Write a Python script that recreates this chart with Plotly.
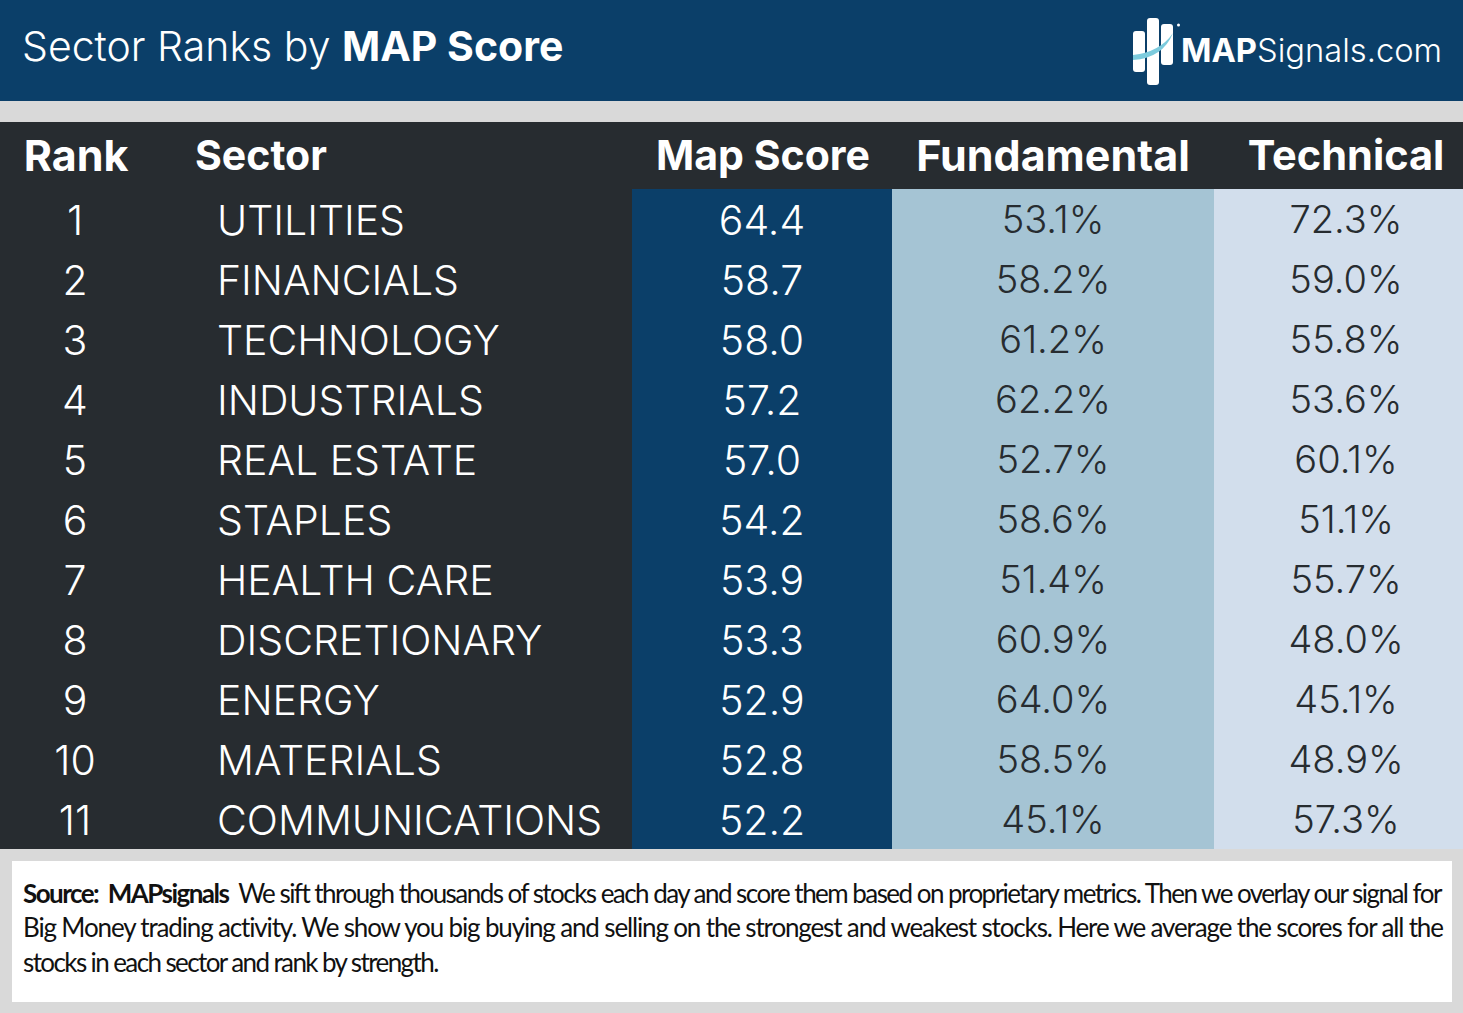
import plotly.graph_objects as go

W, H = 1463, 1013

ranks = ["1", "2", "3", "4", "5", "6", "7", "8", "9", "10", "11"]
sectors = ["UTILITIES", "FINANCIALS", "TECHNOLOGY", "INDUSTRIALS", "REAL ESTATE", "STAPLES",
           "HEALTH CARE", "DISCRETIONARY", "ENERGY", "MATERIALS", "COMMUNICATIONS"]
map_score = ["64.4", "58.7", "58.0", "57.2", "57.0", "54.2", "53.9", "53.3", "52.9", "52.8", "52.2"]
fundamental = ["53.1%", "58.2%", "61.2%", "62.2%", "52.7%", "58.6%", "51.4%", "60.9%", "64.0%", "58.5%", "45.1%"]
technical = ["72.3%", "59.0%", "55.8%", "53.6%", "60.1%", "51.1%", "55.7%", "48.0%", "45.1%", "48.9%", "57.3%"]
headers = ["Rank", "", "Sector", "Map Score", "Fundamental", "", "Technical"]
blank = [""] * 11

source_lines = [
    "<b>Source:  MAPsignals</b>  We sift through thousands of stocks each day and score them based on proprietary metrics. Then we overlay our signal for",
    "Big Money trading activity. We show you big buying and selling on the strongest and weakest stocks. Here we average the scores for all the",
    "stocks in each sector and rank by strength.",
]
# tracking per line, the source text is set very tight and justified
source_spacing = [-1.54, -1.15, -1.6]

NAVY = "#0B3F69"
DARK = "#272C30"
MID = "#A5C4D4"
PALE = "#D2DEEC"
GREY = "#D9D9D9"
CLEAR = "rgba(0,0,0,0)"
FONT = "Inter"


def fx(x):
    return x / W


def fy(y):
    return 1 - y / H


def rect(x0, y0, x1, y1, color):
    return dict(type="rect", xref="paper", yref="paper", x0=fx(x0), x1=fx(x1), y0=fy(y0), y1=fy(y1),
                fillcolor=color, line_width=0, layer="below")


def pill(x0, y0, x1, y1, r, color):
    # rounded bar of the logo
    p = (f"M{fx(x0+r)},{fy(y0)} L{fx(x1-r)},{fy(y0)} Q{fx(x1)},{fy(y0)} {fx(x1)},{fy(y0+r)} "
         f"L{fx(x1)},{fy(y1-r)} Q{fx(x1)},{fy(y1)} {fx(x1-r)},{fy(y1)} "
         f"L{fx(x0+r)},{fy(y1)} Q{fx(x0)},{fy(y1)} {fx(x0)},{fy(y1-r)} "
         f"L{fx(x0)},{fy(y0+r)} Q{fx(x0)},{fy(y0)} {fx(x0+r)},{fy(y0)} Z")
    return dict(type="path", xref="paper", yref="paper", path=p, fillcolor=color, line_width=0)


def label(x, y, text, size, color="white", anchor="left", family=FONT):
    return dict(xref="paper", yref="paper", x=fx(x), y=fy(y), text=text, showarrow=False,
                xanchor=anchor, yanchor="middle", align=anchor,
                font=dict(family=family, size=size, color=color))


fig = go.Figure()

# tables are transparent and pushed down a few px, table text sits high in its cell
# and the cell has no vertical alignment setting
fig.add_trace(go.Table(
    domain=dict(x=[0, 1], y=[fy(198), fy(131)]),
    columnwidth=[152, 35, 445, 262, 318, 17, 234],
    header=dict(values=headers, height=67, align=["center", "left", "left", "center", "center", "left", "center"],
                fill_color=CLEAR, line_width=0,
                font=dict(family=FONT, size=[43, 41, 41, 41, 43, 41, 41.5], color="white", weight=700)),
    cells=dict(values=[[] for _ in headers]),
))

fig.add_trace(go.Table(
    domain=dict(x=[0, 1], y=[fy(856), fy(195)]),
    columnwidth=[150, 59, 423, 260, 322, 15, 234],
    header=dict(values=[""] * 7, height=1, fill_color=CLEAR, line_width=0),
    cells=dict(
        values=[ranks, blank, sectors, map_score, fundamental, blank, technical],
        height=60,
        align=["center", "left", "left", "center", "center", "left", "center"],
        fill_color=CLEAR,
        line_width=0,
        font=dict(family=FONT, size=[41, 41, 41, 41, 38, 41, 38], weight=300,
                  color=["white", "white", "white", "white", DARK, DARK, DARK]),
    ),
))

shapes = [
    rect(0, 0, W, 101, NAVY),
    rect(0, 122, W, 849, DARK),
    rect(632, 189, 892, 849, NAVY),
    rect(892, 189, 1214, 849, MID),
    rect(1214, 189, W, 849, PALE),
    rect(12, 861, 1452, 1002, "white"),
    pill(1133, 31, 1145, 72, 3, "white"),
    pill(1147, 18, 1159, 85, 3, "white"),
    pill(1161, 24, 1173, 65, 3, "white"),
    dict(type="path", xref="paper", yref="paper", line_width=0, fillcolor="#7CCBDD",
         path=(f"M{fx(1133)},{fy(55)} Q{fx(1160)},{fy(52)} {fx(1173)},{fy(33)} "
               f"Q{fx(1163)},{fy(58)} {fx(1133)},{fy(60)} Z")),
    dict(type="circle", xref="paper", yref="paper", x0=fx(1177), x1=fx(1180), y0=fy(26.5), y1=fy(23.5),
         fillcolor="white", line_width=0),
]

annotations = [
    label(19.5, 46, "<span style='font-weight:300'>Sector Ranks by</span> <b>MAP Score</b>", 41),
    label(1444, 50, "<b>MAP</b><span style='font-weight:300'>Signals.com</span>", 32.7, anchor="right"),
]
for y, line, sp in zip([893, 927, 962], source_lines, source_spacing):
    annotations.append(label(21, y, f"<span style='letter-spacing:{sp}px'>{line}</span>", 26, color="#111111", family="Lato"))

fig.update_layout(
    width=W, height=H,
    margin=dict(l=0, r=0, t=0, b=0),
    paper_bgcolor=GREY,
    shapes=shapes,
    annotations=annotations,
    showlegend=False,
)

fig.write_html("out.html", config=dict(displayModeBar=False), post_script="document.body.style.margin='0';")
